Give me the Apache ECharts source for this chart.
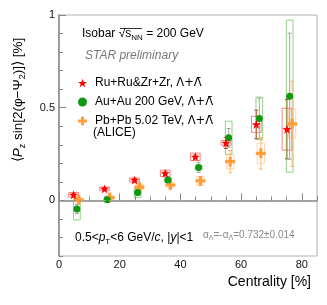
<!DOCTYPE html>
<html><head><meta charset="utf-8">
<script src="https://cdn.jsdelivr.net/npm/echarts@6/dist/echarts.min.js"></script>
<style>html,body{margin:0;padding:0;background:#fff}#c{width:327px;height:305px}</style>
</head><body><div id="c"></div>
<script>
// ---- data ----
const ruCent = [4.8, 15.0, 24.9, 35.0, 44.9, 55.0, 65.0, 75.1];
const ruVal  = [0.030, 0.062, 0.110, 0.146, 0.235, 0.310, 0.410, 0.384];
const ruStat = [0.008, 0.007, 0.008, 0.008, 0.010, 0.030, 0.077, 0.160];
const ruSys  = [0.012, 0.010, 0.011, 0.017, 0.020, 0.012, 0.043, 0.113];

const auCent = [5.9, 15.9, 25.9, 35.9, 46.0, 55.9, 66.0, 76.0];
const auVal  = [-0.047, 0.003, 0.042, 0.110, 0.178, 0.338, 0.442, 0.562];
const auStat = [0.025, 0.010, 0.015, 0.015, 0.027, 0.050, 0.110, 0.340];
const auSys  = [0.058, 0.008, 0.026, 0.012, 0.012, 0.089, 0.115, 0.410];

const pbCent = [6.5, 16.7, 26.5, 36.7, 46.6, 56.4, 66.5, 76.8];
const pbVal  = [0.003, 0.015, 0.071, 0.083, 0.105, 0.209, 0.254, 0.413];
const pbStat = [0.010, 0.010, 0.012, 0.012, 0.015, 0.060, 0.085, 0.230];
const pbSys  = [0.010, 0.010, 0.015, 0.012, 0.024, 0.038, 0.054, 0.078];

const xLabels = [0, 20, 40, 60, 80];
const xMinor = [0,5,10,15,20,25,30,35,40,45,50,55,60,65,70,75,80,85];
const yLabels = [0, 0.5, 1];
const yMinor = [-0.3,-0.2,-0.1,0,0.1,0.2,0.3,0.4,0.5,0.6,0.7,0.8,0.9,1.0];

const nameRu = 'Ru+Ru&Zr+Zr, Λ+Λ̄';
const nameAu = 'Au+Au 200 GeV, Λ+Λ̄';
const namePb = 'Pb+Pb 5.02 TeV, Λ+Λ̄';

const STAR = 'path://M0,-10L2.35,-3.24L9.51,-3.09L3.8,1.24L5.88,8.09L0,4L-5.88,8.09L-3.8,1.24L-9.51,-3.09L-2.35,-3.24Z';
const CROSS = 'path://M-1.6,-5L1.6,-5L1.6,-1.6L5,-1.6L5,1.6L1.6,1.6L1.6,5L-1.6,5L-1.6,1.6L-5,1.6L-5,-1.6L-1.6,-1.6Z';

function pts(c, v, s, y) { return c.map((x, i) => [x, v[i], s[i], y[i]]); }

function errSeries(name, data, hw, boxColor, statColor) {
  return {
    type: 'custom', name: name, z: 2, clip: true,
    data: data,
    encode: { x: 0, y: 1 },
    renderItem: function (params, api) {
      const x = api.value(0), y = api.value(1), st = api.value(2), sy = api.value(3);
      const p1 = api.coord([x - hw, y + sy]);
      const p2 = api.coord([x + hw, y - sy]);
      const t = api.coord([x, y + st]);
      const b = api.coord([x, y - st]);
      const cap = 2;
      return {
        type: 'group', children: [
          { type: 'rect', shape: { x: p1[0], y: p1[1], width: p2[0] - p1[0], height: p2[1] - p1[1] },
            style: { fill: 'none', stroke: boxColor, lineWidth: 1 } },
          { type: 'line', shape: { x1: t[0], y1: t[1], x2: b[0], y2: b[1] }, style: { stroke: statColor, lineWidth: 1 } },
          { type: 'line', shape: { x1: t[0] - cap, y1: t[1], x2: t[0] + cap, y2: t[1] }, style: { stroke: statColor, lineWidth: 1 } },
          { type: 'line', shape: { x1: b[0] - cap, y1: b[1], x2: b[0] + cap, y2: b[1] }, style: { stroke: statColor, lineWidth: 1 } }
        ]
      };
    }
  };
}

const chart = echarts.init(document.getElementById('c'), null, { renderer: 'canvas' });
const FONT = 'Liberation Sans, Arial, sans-serif';
const DJ = 'DejaVu Sans';
const axisCommon = { min: 0, max: 85, type: 'value', position: 'bottom', splitLine: { show: false } };
const yCommon = { min: -0.3, max: 1.0, type: 'value', position: 'left', splitLine: { show: false } };

chart.setOption({
  animation: false,
  textStyle: { fontFamily: FONT },
  grid: { left: 59, right: 10, top: 15, bottom: 49, show: true, borderColor: '#b0b0b0', borderWidth: 1, backgroundColor: 'transparent' },
  xAxis: [
    Object.assign({}, axisCommon, {
      axisLine: { show: true, lineStyle: { color: '#888', width: 1.5 } },
      axisTick: { show: true, inside: true, length: 7, customValues: xLabels, lineStyle: { color: '#888' } },
      axisLabel: { show: true, customValues: xLabels, color: '#111', fontSize: 11, margin: 3, fontFamily: FONT }
    }),
    Object.assign({}, axisCommon, {
      axisLine: { show: false },
      axisTick: { show: true, inside: true, length: 4, customValues: xMinor, lineStyle: { color: '#888' } },
      axisLabel: { show: false }
    })
  ],
  yAxis: [
    Object.assign({}, yCommon, {
      axisLine: { show: true, lineStyle: { color: '#888', width: 1.5 } },
      axisTick: { show: true, inside: true, length: 7, customValues: yLabels, lineStyle: { color: '#888' } },
      axisLabel: { show: true, customValues: yLabels, color: '#111', fontSize: 11, margin: 4, fontFamily: FONT }
    }),
    Object.assign({}, yCommon, {
      axisLine: { show: false },
      axisTick: { show: true, inside: true, length: 4, customValues: yMinor, lineStyle: { color: '#888' } },
      axisLabel: { show: false }
    })
  ],
  legend: {
    orient: 'vertical', left: 73, top: 71, itemWidth: 9, itemHeight: 9, itemGap: 5,
    formatter: function (n) { return n.replace('Λ+Λ̄', '{g|Λ+Λ̄}'); },
    textStyle: { fontSize: 12, color: '#000', fontFamily: FONT, lineHeight: 14, padding: [0, 0, 0, 3],
      rich: { g: { fontFamily: DJ, fontSize: 11.5, lineHeight: 14, color: '#000' } } },
    data: [
      { name: nameRu, icon: STAR, itemStyle: { color: '#ff0000' } },
      { name: nameAu, icon: 'circle', itemStyle: { color: '#109910' } },
      { name: namePb, icon: CROSS, itemStyle: { color: '#ff9a33' } }
    ]
  },
  series: [
    errSeries('ruErr', pts(ruCent, ruVal, ruStat, ruSys), 1.6, 'rgba(255,60,60,0.65)', '#d8402a'),
    errSeries('auErr', pts(auCent, auVal, auStat, auSys), 1.1, 'rgba(60,170,40,0.55)', '#9aaa9a'),
    errSeries('pbErr', pts(pbCent, pbVal, pbStat, pbSys), 1.2, 'rgba(255,160,80,0.45)', 'rgba(255,170,90,0.8)'),
    {
      type: 'scatter', name: nameRu, z: 5, symbol: STAR, symbolSize: 9,
      itemStyle: { color: '#ff0000', opacity: 1 },
      data: ruCent.map((x, i) => [x, ruVal[i]]),
      markLine: {
        silent: true, symbol: 'none', label: { show: false },
        lineStyle: { color: '#999', type: [2, 3], width: 1 },
        data: [{ yAxis: 0 }]
      }
    },
    {
      type: 'scatter', name: nameAu, z: 4, symbol: 'circle', symbolSize: 7,
      itemStyle: { color: '#109910', opacity: 1 },
      data: auCent.map((x, i) => [x, auVal[i]])
    },
    {
      type: 'scatter', name: namePb, z: 3, symbol: CROSS, symbolSize: 10,
      itemStyle: { color: '#ff9a33', opacity: 0.95 },
      data: pbCent.map((x, i) => [x, pbVal[i]])
    }
  ],
  graphic: [
    { type: 'text', left: 82, top: 26, style: {
        text: 'Isobar {r|√}s{sub|NN} = 200 GeV', fill: '#000', font: '12px ' + FONT,
        rich: { r: { fontSize: 12, fontFamily: FONT, lineHeight: 16, verticalAlign: 'middle' },
                sub: { fontSize: 8, fontFamily: FONT, lineHeight: 8, verticalAlign: 'bottom' } },
        lineHeight: 16 } },
    { type: 'line', shape: { x1: 120, y1: 28.5, x2: 142, y2: 28.5 }, style: { stroke: '#000', lineWidth: 0.8 } },
    { type: 'text', left: 85, top: 50, style: {
        text: 'STAR preliminary', fill: '#777', font: 'italic 12px ' + FONT } },
    { type: 'text', left: 93, top: 127, style: {
        text: '(ALICE)', fill: '#000', font: '12px ' + FONT } },
    { type: 'text', left: 75, top: 230, style: {
        text: '0.5<{i|p}{sub|T}<6 GeV/{i|c}, |{i|y}|<1', fill: '#000', font: '12px ' + FONT, lineHeight: 16,
        rich: { i: { fontStyle: 'italic', fontSize: 12, fontFamily: FONT, lineHeight: 16, verticalAlign: 'middle' },
                sub: { fontSize: 8, fontFamily: FONT, lineHeight: 8, verticalAlign: 'bottom' } } } },
    { type: 'text', left: 203, top: 228, style: {
        text: 'α{sub|Λ}=-α{sb|Λ̄}=0.732±0.014', fill: '#888', font: '10px ' + FONT, lineHeight: 14,
        rich: { sub: { fontSize: 7, fontFamily: FONT, lineHeight: 7, verticalAlign: 'bottom', fill: '#888' },
                sb: { fontSize: 7, fontFamily: DJ, lineHeight: 7, verticalAlign: 'bottom', fill: '#888' } } } },
    { type: 'text', right: 16, top: 275, style: {
        text: 'Centrality [%]', fill: '#000', font: '14px ' + FONT } },
    { type: 'text', x: 18, y: 100, rotation: Math.PI / 2, style: {
        text: '⟨{i|P}{sub|z} sin[2(φ−Ψ{sub|2})]⟩ [%]', fill: '#000', font: '13.5px ' + FONT,
        align: 'center', verticalAlign: 'middle', lineHeight: 18,
        rich: { i: { fontStyle: 'italic', fontSize: 13.5, fontFamily: FONT, lineHeight: 18, verticalAlign: 'middle' },
                sub: { fontSize: 9, fontFamily: FONT, lineHeight: 9, verticalAlign: 'bottom' } } } }
  ]
});
</script>
</body></html>
